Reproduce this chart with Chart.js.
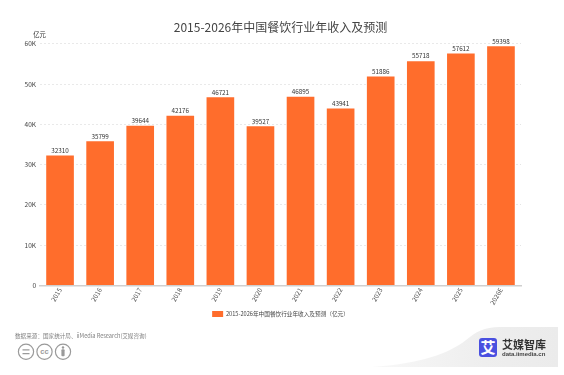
<!DOCTYPE html>
<html lang="zh">
<head>
  <meta charset="UTF-8" />
  <title>2015-2026年中国餐饮行业年收入及预测</title>
  <script src="https://cdn.jsdelivr.net/npm/chart.js"></script>
  <style>
    html, body { margin: 0; padding: 0; background: #fff; overflow: hidden; }
    body { width: 564px; height: 375px; position: relative; font-family: "Noto Sans CJK SC", sans-serif; }
    #wrap { position: absolute; left: 0; top: 0; width: 564px; height: 375px; }
    #fuente { position: absolute; left: 15px; top: 331px; font-size: 5.6px; line-height: 10px; color: #808080; white-space: nowrap; }
    #marca { position: absolute; left: 0; top: 0; }
    #nombre { position: absolute; left: 502px; top: 336px; font-size: 11px; line-height: 16px; font-weight: 700; color: #333; white-space: nowrap; }
    #web { position: absolute; left: 502px; top: 349.5px; font: bold 6px/9px "Liberation Sans", sans-serif; color: #444; white-space: nowrap; }
  </style>
</head>
<body>
<svg id="marca" width="564" height="375">
  <defs>
    <linearGradient id="fondoMarca" x1="0" y1="0" x2="1" y2="0">
      <stop offset="0" stop-color="#f8f8f8" />
      <stop offset="0.6" stop-color="#eeeeee" />
      <stop offset="1" stop-color="#ebebeb" />
    </linearGradient>
  </defs>
  <path d="M372 367 C 420 364, 450 353, 466 340 C 476 332, 484 327, 500 327 L 558 327 L 558 367 Z" fill="url(#fondoMarca)" />
  <rect x="479" y="338" width="18" height="19" rx="3" fill="#4a50e0" />
  <text x="488" y="353" text-anchor="middle" font-size="15" font-weight="700" fill="#fff" font-family="Noto Sans CJK SC">艾</text>
  <g fill="none" stroke="#9a9a9a" stroke-width="1.2">
    <circle cx="26" cy="351.7" r="7.6" />
    <circle cx="44.5" cy="351.7" r="7.6" />
    <circle cx="63" cy="351.7" r="7.6" />
    <path d="M22.5 349.8 H29.5 M22.5 353.6 H29.5" />
  </g>
  <text x="44.5" y="354.3" text-anchor="middle" font-size="7.5" font-weight="700" fill="#9a9a9a" font-family="Liberation Sans">cc</text>
  <circle cx="63" cy="347.5" r="1.2" fill="#9a9a9a" />
  <rect x="61.4" y="349.3" width="3.2" height="7" rx="1" fill="#9a9a9a" />
</svg>
<div id="wrap"><canvas id="grafico" width="564" height="375"></canvas></div>
<div id="fuente">数据来源：国家统计局、iiMedia Research(艾媒咨询)</div>
<div id="nombre">艾媒智库</div>
<div id="web">data.iimedia.cn</div>
<script>
  const anios = ['2015', '2016', '2017', '2018', '2019', '2020', '2021', '2022', '2023', '2024', '2025', '2026E'];
  const ingresos = [32310, 35799, 39644, 42176, 46721, 39527, 46895, 43941, 51886, 55718, 57612, 59398];
  const titulo = '2015-2026年中国餐饮行业年收入及预测';
  const serie = '2015-2026年中国餐饮行业年收入及预测（亿元）';
  const unidad = '亿元';
  const fuente = '"Noto Sans CJK SC", sans-serif';

  // valores encima de cada barra y la unidad arriba del eje
  const etiquetasPlugin = {
    id: 'etiquetas',
    afterDatasetsDraw(chart) {
      const ctx = chart.ctx;
      const meta = chart.getDatasetMeta(0);
      ctx.save();
      ctx.font = '6.3px ' + fuente;
      ctx.fillStyle = '#333';
      ctx.textAlign = 'center';
      ctx.textBaseline = 'bottom';
      meta.data.forEach((barra, i) => {
        ctx.fillText(ingresos[i], barra.x, barra.y - 2);
      });
      ctx.fillText(unidad, 39.5, 38);
      ctx.restore();
    }
  };

  new Chart(document.getElementById('grafico').getContext('2d'), {
    type: 'bar',
    data: {
      labels: anios,
      datasets: [{
        label: serie,
        data: ingresos,
        backgroundColor: '#FF6D2C',
        barPercentage: 0.69,
        categoryPercentage: 1
      }]
    },
    options: {
      responsive: false,
      animation: false,
      layout: { padding: { left: 0, right: 3, top: 20, bottom: 48 } },
      plugins: {
        title: {
          display: true,
          text: titulo,
          color: '#444',
          font: { family: fuente, size: 12, weight: 'normal' },
          padding: { top: 0, bottom: 9.5 }
        },
        legend: {
          position: 'bottom',
          labels: {
            color: '#444',
            boxWidth: 11,
            boxHeight: 6,
            padding: 4,
            font: { family: fuente, size: 5.65 }
          }
        },
        tooltip: { enabled: false }
      },
      scales: {
        x: {
          afterFit(escala) { escala.height = 21.5; },
          grid: { display: false, drawTicks: false },
          border: { color: '#cfcfcf', width: 1.5 },
          ticks: {
            color: '#555',
            font: { family: fuente, size: 6.5 },
            maxRotation: 60,
            minRotation: 60,
            padding: 1
          }
        },
        y: {
          min: 0,
          max: 60000,
          afterFit(escala) { escala.width = 40; },
          border: { display: false, dash: [2, 2] },
          grid: { color: '#e4e4e4', lineWidth: 0.8, drawTicks: false },
          ticks: {
            stepSize: 10000,
            color: '#444',
            padding: 4,
            font: { family: fuente, size: 6.5 },
            callback: v => v === 0 ? '0' : (v / 1000) + 'K'
          }
        },
        // eje vacio para dejar el margen derecho sin descentrar titulo y leyenda
        margen: {
          position: 'right',
          afterFit(escala) { escala.width = 40; },
          border: { display: false },
          grid: { display: false, drawTicks: false },
          ticks: { display: false }
        }
      }
    },
    plugins: [etiquetasPlugin]
  });
</script>
</body>
</html>
